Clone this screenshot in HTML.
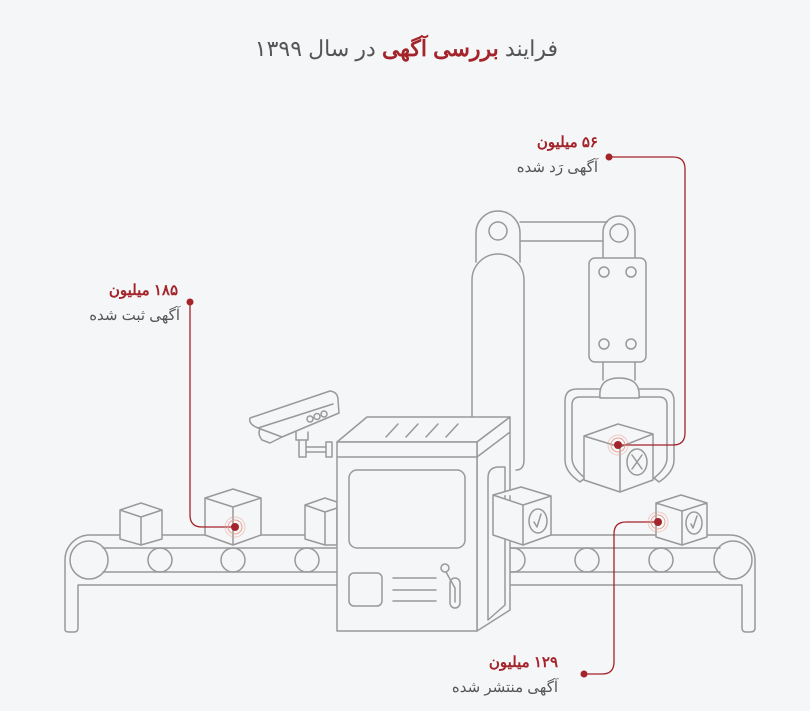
<!DOCTYPE html>
<html><head><meta charset="utf-8"><style>
html,body{margin:0;padding:0;background:#f5f6f8;}
#w{position:relative;width:810px;height:711px;overflow:hidden;background:#f5f6f8;font-family:"Liberation Sans","Noto Sans CJK SC",sans-serif;}
.t{position:absolute;direction:rtl;text-align:right;white-space:nowrap;}
.r{color:#a3242a;font-weight:bold;font-size:15px;}
.g{color:#555;font-size:15px;}
svg{position:absolute;left:0;top:0;}
</style></head><body><div id="w">
<svg width="810" height="711" viewBox="0 0 810 711" fill="none" stroke="#999" stroke-width="1.5" stroke-linejoin="round" stroke-linecap="round">
<path d="M476,262 V233 A22,22 0 0 1 520,233 V262"/>
<circle cx="498" cy="231" r="9"/>
<path d="M472,470 V280 A26,26 0 0 1 524,280 V460 Q524,470 516,470"/>
<path d="M520,222 H607 M520,241 H603"/>
<path d="M603,258 V232 A16,16 0 0 1 635,232 V258"/>
<circle cx="619" cy="233" r="9"/>
<rect x="589" y="258" width="57" height="104" rx="6" fill="#f5f6f8"/>
<circle cx="604" cy="272" r="5"/><circle cx="631" cy="272" r="5"/>
<circle cx="604" cy="344" r="5"/><circle cx="631" cy="344" r="5"/>
<path d="M603,362 V380 M635,362 V380"/>
<path d="M600,398 Q598,378 619,378 Q641,378 639,398 Z" fill="#f5f6f8"/>
<path d="M600,389 H577 Q565,389 565,401 V460 Q565,472 580,482 L585,478 Q572,468 572,458 V405 Q572,397 580,397 H600"/>
<path d="M639,389 H662 Q674,389 674,401 V460 Q674,472 659,482 L654,478 Q667,468 667,458 V405 Q667,397 659,397 H639"/>
<path d="M584,436 L618,424 L653,434 L620,447 Z M584,436 V480 L620,492 L653,480 V434 M620,447 V492" fill="#f5f6f8"/>
<ellipse cx="637" cy="462" rx="10" ry="13"/>
<path d="M632,455 L642,469 M642,455 L632,469"/>
<path d="M337,535 H90 A25,25 0 0 0 65,560 V630 Q65,632 70,632 H74 Q78,632 78,628 V585 H337"/>
<path d="M337,548 H103 M337,572 H103"/>
<circle cx="89" cy="560" r="19"/>
<circle cx="160" cy="560" r="12"/><circle cx="233" cy="560" r="12"/><circle cx="307" cy="560" r="12"/>
<path d="M477,535 H730 A25,25 0 0 1 755,560 V628 Q755,632 750,632 H746 Q742,632 742,628 V585 H477"/>
<path d="M477,548 H720 M477,572 H720"/>
<circle cx="733" cy="560" r="19"/>
<circle cx="513" cy="560" r="12"/><circle cx="587" cy="560" r="12"/><circle cx="661" cy="560" r="12"/>
<path d="M120,510 L141,503 L162,510 L141,517 Z M120,510 V539 L141,545 L162,539 V510 M141,517 V545" fill="#f5f6f8"/>
<path d="M205,498 L233,489 L261,498 L233,507 Z M205,498 V535 L233,545 L261,535 V498 M233,507 V545" fill="#f5f6f8"/>
<path d="M305,505 L325,498 L337,502 V545 L325,545 L305,539 Z M305,505 L325,512 V545 M325,512 L337,508" fill="#f5f6f8"/>
<path d="M656,503 L681,495 L707,503 L682,511 Z M656,503 V537 L682,545 L707,537 V503 M682,511 V545" fill="#f5f6f8"/>
<ellipse cx="694" cy="523" rx="8" ry="11"/><path d="M691,524 L693,528 L697,516"/>
<path d="M262,427 Q256,432 262,440 L270,443 L282,437 Z" fill="#f5f6f8"/>
<path d="M250,418 L330,391 Q338,392 338,400 L339,413 L282,437 L258,428 Q248,424 250,418 Z" fill="#f5f6f8"/>
<path d="M258,428 L333,404"/>
<circle cx="310" cy="419" r="3"/><circle cx="317" cy="416.5" r="3"/><circle cx="324" cy="414" r="3"/>
<path d="M296,432 V440 H308 V432 M299,440 V457 H306 V440 M306,447 H326 M306,452 H326"/>
<path d="M326,442 H332 V457 H326 Z"/>
<path d="M337,442 L367,417 H510 L477,442 Z" fill="#f5f6f8"/>
<path d="M386,437 L398,424 M406,437 L418,424 M426,437 L438,424 M446,437 L458,424"/>
<path d="M477,442 L510,417 V610 L477,631 Z M477,457 L510,432" fill="#f5f6f8"/>
<path d="M488,620 V478 Q488,467 499,467 L505,467 V605 Z"/>
<rect x="337" y="442" width="140" height="189" fill="#f5f6f8"/>
<path d="M337,457 H477"/>
<rect x="349" y="470" width="116" height="78" rx="8"/>
<rect x="349" y="573" width="33" height="33" rx="5"/>
<path d="M393,578 H436 M393,590 H436 M393,601 H436"/>
<rect x="450" y="578" width="10" height="30" rx="5"/>
<path d="M455,602 V588 L446,572"/><circle cx="445" cy="568" r="4"/>
<path d="M493,495 L521,487 L551,496 L523,505 Z M493,495 V535 L523,545 L551,535 V496 M523,505 V545" fill="#f5f6f8"/>
<ellipse cx="538" cy="521" rx="9" ry="12"/><path d="M534,522 L537,527 L541,514"/>
<g stroke="#a3242a" stroke-width="1.3">
<path d="M190,302 V515 Q190,527 202,527 H233"/>
<path d="M609,157 H673 Q685,157 685,169 V433 Q685,445 673,445 H618"/>
<path d="M584,674 H602 Q614,674 614,662 V534 Q614,522 626,522 H658"/>
</g>
<g fill="none" stroke="#e8a090" stroke-width="1">
<circle cx="235" cy="527" r="7"/><circle cx="235" cy="527" r="10" stroke-opacity=".5"/>
<circle cx="618" cy="445" r="7"/><circle cx="618" cy="445" r="10" stroke-opacity=".5"/>
<circle cx="658" cy="522" r="7"/><circle cx="658" cy="522" r="10" stroke-opacity=".5"/>
</g>
<g fill="#a3242a" stroke="none">
<circle cx="235" cy="527" r="4"/><circle cx="618" cy="445" r="4"/><circle cx="658" cy="522" r="4"/>
<circle cx="190" cy="302" r="3.5"/><circle cx="609" cy="157" r="3.5"/><circle cx="584" cy="674" r="3.5"/>
</g>
</svg>
<div class="t" style="right:252px;top:36px;font-size:22px;color:#555;">فرایند <b style="color:#a3242a">بررسی آگهی</b> در سال ۱۳۹۹</div>
<div class="t r" style="right:632px;top:281px;">۱۸۵ میلیون</div>
<div class="t g" style="right:630px;top:306px;">آگهی ثبت شده</div>
<div class="t r" style="right:212px;top:133px;">۵۶ میلیون</div>
<div class="t g" style="right:212px;top:158px;">آگهی رَد شده</div>
<div class="t r" style="right:252px;top:653px;">۱۲۹ میلیون</div>
<div class="t g" style="right:252px;top:678px;">آگهی منتشر شده</div>
</div></body></html>
